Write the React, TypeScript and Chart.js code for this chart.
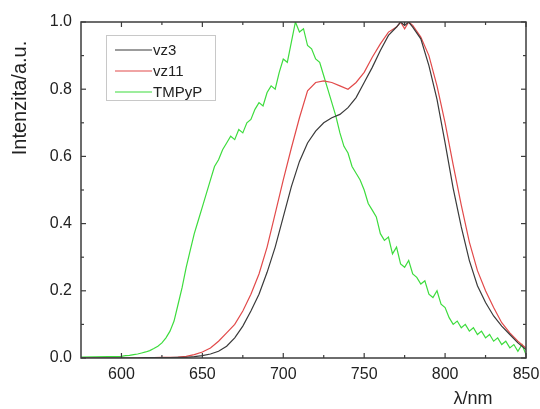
import React, { useEffect, useRef } from "react";
import { Chart, registerables } from "chart.js";

Chart.register(...registerables);

// Wavelength grid (nm) for vz3 and vz11
const wavelengths = [
  575, 580, 585, 590, 595, 600, 605, 610, 615, 620, 625, 630, 635, 640, 645, 650,
  655, 660, 665, 670, 675, 680, 685, 690, 695, 700, 705, 710, 715, 720, 725, 730,
  735, 740, 745, 750, 755, 760, 765, 770, 772.5, 775, 777.5, 780, 785, 790, 795, 800,
  805, 810, 815, 820, 825, 830, 835, 840, 845, 850,
];

const vz3 = [
  0, 0, 0, 0, 0, 0, 0, 0, 0.001, 0.001, 0.001, 0.001, 0.002, 0.002, 0.004, 0.007,
  0.012, 0.02, 0.035, 0.06, 0.095, 0.14, 0.19, 0.255, 0.33, 0.42, 0.51, 0.585, 0.64, 0.675, 0.7, 0.715,
  0.725, 0.745, 0.775, 0.82, 0.865, 0.915, 0.96, 0.985, 1.0, 0.99, 1.0, 0.985, 0.95, 0.87, 0.77, 0.64,
  0.505, 0.39, 0.29, 0.215, 0.165, 0.125, 0.095, 0.07, 0.045, 0.025,
];

const vz11 = [
  0, 0, 0, 0, 0, 0, 0, 0, 0.001, 0.001, 0.002, 0.002, 0.003, 0.005, 0.01, 0.018,
  0.03, 0.05, 0.075, 0.1, 0.14, 0.19, 0.25, 0.33, 0.43, 0.53, 0.625, 0.715, 0.795, 0.82, 0.825, 0.82,
  0.81, 0.8, 0.82, 0.85, 0.895, 0.935, 0.97, 0.985, 1.0, 0.98, 1.0, 0.99, 0.955, 0.9, 0.81, 0.7,
  0.575, 0.455, 0.345, 0.26, 0.2, 0.15, 0.105, 0.075, 0.05, 0.03,
];

// Wavelength grid (nm) for TMPyP
const tmpypWavelengths = [
  575, 600, 602.5, 605, 607.5, 610, 612.5, 615, 617.5, 620, 622.5, 625, 627.5, 630, 632.5, 635,
  637.5, 640, 642.5, 645, 647.5, 650, 652.5, 655, 657.5, 660, 662.5, 665, 667.5, 670, 672.5, 675,
  677.5, 680, 682.5, 685, 687.5, 690, 692.5, 695, 697.5, 700, 702.5, 705, 707.5, 710, 712.5, 715,
  717.5, 720, 722.5, 725, 727.5, 730, 732.5, 735, 737.5, 740, 742.5, 745, 747.5, 750, 752.5, 755,
  757.5, 760, 762.5, 765, 767.5, 770, 772.5, 775, 777.5, 780, 782.5, 785, 787.5, 790, 792.5, 795,
  797.5, 800, 802.5, 805, 807.5, 810, 812.5, 815, 817.5, 820, 822.5, 825, 827.5, 830, 832.5, 835,
  837.5, 840, 842.5, 845, 847.5, 850,
];

const tmpyp = [
  0.003, 0.005, 0.007, 0.008, 0.01, 0.012, 0.015, 0.018, 0.022, 0.028, 0.035, 0.045, 0.06, 0.08, 0.11, 0.16,
  0.21, 0.27, 0.32, 0.37, 0.41, 0.45, 0.49, 0.53, 0.57, 0.59, 0.62, 0.64, 0.66, 0.65, 0.68, 0.67,
  0.7, 0.71, 0.74, 0.76, 0.75, 0.79, 0.81, 0.8, 0.85, 0.89, 0.88, 0.94, 1.0, 0.97, 0.98, 0.93,
  0.92, 0.89, 0.88, 0.84, 0.8, 0.76, 0.72, 0.67, 0.63, 0.61, 0.57, 0.55, 0.53, 0.5, 0.46, 0.44,
  0.42, 0.37, 0.35, 0.36, 0.31, 0.33, 0.28, 0.27, 0.29, 0.25, 0.24, 0.22, 0.23, 0.19, 0.18, 0.2,
  0.16, 0.15, 0.12, 0.1, 0.11, 0.09, 0.1, 0.08, 0.09, 0.07, 0.08, 0.06, 0.07, 0.05, 0.06, 0.04,
  0.05, 0.03, 0.04, 0.02, 0.04, 0.01,
];

const seriesLabels = ["vz3", "vz11", "TMPyP"];
const xMajorTicks = [600, 650, 700, 750, 800, 850];
const xMinorTicks = [625, 675, 725, 775, 825];
const yMajorTicks = [0, 0.2, 0.4, 0.6, 0.8, 1.0];
const yMinorTicks = [0.1, 0.3, 0.5, 0.7, 0.9];
const xTitle = "λ/nm";
const yTitle = "Intenzita/a.u.";

const FONT = "'Liberation Sans', Arial, sans-serif";
const COLORS = ["#3a3a3a", "#e24a4a", "#3ddc3d"];

const framePlugin = {
  id: "framePlugin",
  afterDraw(chart: any) {
    const { ctx, chartArea: a, scales } = chart;
    const xs = scales.x;
    const ys = scales.y;
    ctx.save();
    // frame
    ctx.strokeStyle = "#3c3c3c";
    ctx.lineWidth = 1.5;
    ctx.strokeRect(a.left, a.top, a.right - a.left, a.bottom - a.top);
    ctx.lineWidth = 1.2;
    const tick = (x1: number, y1: number, x2: number, y2: number) => {
      ctx.beginPath();
      ctx.moveTo(x1, y1);
      ctx.lineTo(x2, y2);
      ctx.stroke();
    };
    xMajorTicks.forEach((v) => {
      const px = xs.getPixelForValue(v);
      tick(px, a.bottom, px, a.bottom - 5);
      tick(px, a.top, px, a.top + 5);
    });
    xMinorTicks.forEach((v) => {
      const px = xs.getPixelForValue(v);
      tick(px, a.bottom, px, a.bottom - 3);
      tick(px, a.top, px, a.top + 3);
    });
    yMajorTicks.forEach((v) => {
      const py = ys.getPixelForValue(v);
      tick(a.left, py, a.left + 5, py);
      tick(a.right, py, a.right - 5, py);
    });
    yMinorTicks.forEach((v) => {
      const py = ys.getPixelForValue(v);
      tick(a.left, py, a.left + 3, py);
      tick(a.right, py, a.right - 3, py);
    });
    // tick labels
    ctx.fillStyle = "#222";
    ctx.font = `16px ${FONT}`;
    ctx.textAlign = "center";
    ctx.textBaseline = "middle";
    xMajorTicks.forEach((v) => {
      ctx.fillText(String(v), xs.getPixelForValue(v), a.bottom + 17);
    });
    ctx.textAlign = "right";
    yMajorTicks.forEach((v) => {
      ctx.fillText(v.toFixed(1), a.left - 9, ys.getPixelForValue(v));
    });
    // titles
    ctx.font = `18px ${FONT}`;
    ctx.textAlign = "center";
    ctx.fillText(xTitle, 473, 399);
    ctx.save();
    ctx.translate(20, 98);
    ctx.rotate(-Math.PI / 2);
    ctx.font = `20px ${FONT}`;
    ctx.fillText(yTitle, 0, 0);
    ctx.restore();
    // legend
    const lx = 106, ly = 35, lw = 109, lh = 65;
    ctx.fillStyle = "#fff";
    ctx.fillRect(lx, ly, lw, lh);
    ctx.strokeStyle = "#c8c8c8";
    ctx.lineWidth = 1;
    ctx.strokeRect(lx + 0.5, ly + 0.5, lw, lh);
    ctx.font = `15px ${FONT}`;
    ctx.textAlign = "left";
    chart.data.datasets.forEach((ds: any, i: number) => {
      const yy = 50 + i * 21;
      ctx.strokeStyle = ds.borderColor;
      ctx.lineWidth = 1.2;
      tick(115, yy, 152, yy);
      ctx.fillStyle = "#222";
      ctx.fillText(ds.label, 153, yy + 1);
    });
    ctx.restore();
  },
};

export default function App() {
  const ref = useRef<HTMLCanvasElement | null>(null);
  useEffect(() => {
    document.body.style.margin = "0";
    if (!ref.current) return;
    const toPts = (xsArr: number[], ysArr: number[]) => xsArr.map((x, i) => ({ x, y: ysArr[i] }));
    const chart = new Chart(ref.current, {
      type: "line",
      data: {
        datasets: [
          { label: seriesLabels[0], data: toPts(wavelengths, vz3), borderColor: COLORS[0] },
          { label: seriesLabels[1], data: toPts(wavelengths, vz11), borderColor: COLORS[1] },
          { label: seriesLabels[2], data: toPts(tmpypWavelengths, tmpyp), borderColor: COLORS[2] },
        ].map((d) => ({ ...d, borderWidth: 1.2, pointRadius: 0, tension: 0, fill: false })),
      },
      options: {
        animation: false,
        responsive: true,
        maintainAspectRatio: false,
        layout: { padding: { left: 81, right: 14, top: 22, bottom: 51 } },
        plugins: { legend: { display: false }, tooltip: { enabled: false } },
        scales: {
          x: { type: "linear", min: 575, max: 850, display: false },
          y: { type: "linear", min: 0, max: 1.0, display: false },
        },
      },
      plugins: [framePlugin],
    });
    return () => chart.destroy();
  }, []);
  return (
    <div style={{ position: "absolute", left: 0, top: 0, width: 540, height: 409, background: "#fff" }}>
      <canvas ref={ref} />
    </div>
  );
}
